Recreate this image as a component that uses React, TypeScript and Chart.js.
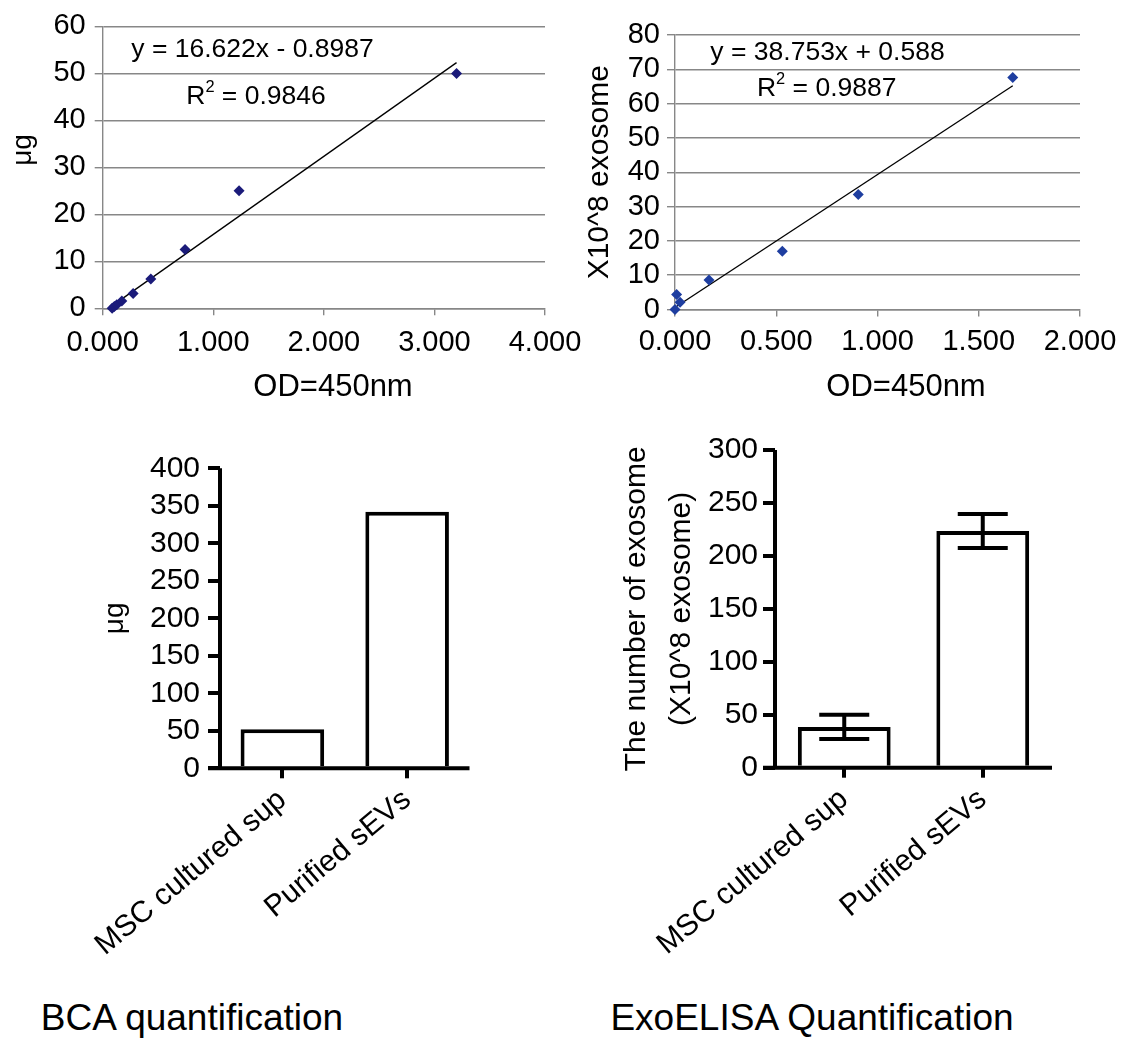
import React, { useEffect, useRef } from 'react';
import { Chart, registerables } from 'chart.js';

Chart.register(...registerables);

const FONT = "'Liberation Sans', Arial, Helvetica, sans-serif";
const GRAY = '#878787';

// ---- Panel 1: BCA standard curve ----
const bcaOD = [0.085, 0.105, 0.127, 0.173, 0.275, 0.435, 0.745, 1.233, 3.2];
const bcaUg = [0, 0.39, 0.78, 1.56, 3.125, 6.25, 12.5, 25, 50];
const bcaSlope = 16.622;
const bcaIntercept = -0.8987;
const bcaEquation = 'y = 16.622x - 0.8987';
const bcaR2 = '0.9846';
const bcaXTicks = [0, 1, 2, 3, 4];
const bcaXLabels = ['0.000', '1.000', '2.000', '3.000', '4.000'];
const bcaYTicks = [0, 10, 20, 30, 40, 50, 60];

// ---- Panel 2: ExoELISA standard curve ----
const elisaOD = [0, 0.008, 0.025, 0.168, 0.53, 0.905, 1.668];
const elisaExo = [0, 4.4, 2.1, 8.6, 17.0, 33.5, 67.6];
const elisaSlope = 38.753;
const elisaIntercept = 0.588;
const elisaEquation = 'y = 38.753x + 0.588';
const elisaR2 = '0.9887';
const elisaXTicks = [0, 0.5, 1, 1.5, 2];
const elisaXLabels = ['0.000', '0.500', '1.000', '1.500', '2.000'];
const elisaYTicks = [0, 10, 20, 30, 40, 50, 60, 70, 80];

// ---- Panel 3 / 4: bar charts ----
const groups = ['MSC cultured sup', 'Purified sEVs'];
const bcaTotals = [52, 342];
const bcaBarYTicks = [0, 50, 100, 150, 200, 250, 300, 350, 400];
const exoTotals = [38.5, 223.5];
const exoErrors = [11.5, 16];
const exoBarYTicks = [0, 50, 100, 150, 200, 250, 300];

type Seg = { t: string; sup?: boolean };
type TextItem = { segs: Seg[]; x: number; y: number; size: number; rotate?: number };

function textPlugin(items: TextItem[]) {
  return {
    id: 'freeTexts',
    afterDraw(chart: any) {
      const ctx = chart.ctx as CanvasRenderingContext2D;
      items.forEach((it) => {
        ctx.save();
        ctx.translate(it.x, it.y);
        if (it.rotate) ctx.rotate(it.rotate);
        ctx.fillStyle = '#000';
        ctx.textBaseline = 'middle';
        ctx.textAlign = 'left';
        const supSize = it.size * 0.62;
        const widths = it.segs.map((s) => {
          ctx.font = `${s.sup ? supSize : it.size}px ${FONT}`;
          return ctx.measureText(s.t).width;
        });
        const total = widths.reduce((a, b) => a + b, 0);
        let x = -total / 2;
        it.segs.forEach((s, i) => {
          ctx.font = `${s.sup ? supSize : it.size}px ${FONT}`;
          ctx.fillText(s.t, x, s.sup ? -it.size * 0.36 : 0);
          x += widths[i];
        });
        ctx.restore();
      });
    },
  };
}

function prismAxesPlugin(tick: number, width: number) {
  return {
    id: 'prismAxes',
    afterDatasetsDraw(chart: any) {
      const { ctx, chartArea } = chart;
      ctx.save();
      ctx.strokeStyle = '#000';
      ctx.lineWidth = width;
      ctx.beginPath();
      ctx.moveTo(chartArea.left, chartArea.top);
      ctx.lineTo(chartArea.left, chartArea.bottom);
      ctx.moveTo(chartArea.left - tick, chartArea.bottom);
      ctx.lineTo(chartArea.right, chartArea.bottom);
      ctx.stroke();
      ctx.restore();
    },
  };
}

function errorBarPlugin(errors: number[], capWidth: number, width: number) {
  return {
    id: 'errorBars',
    afterDatasetsDraw(chart: any) {
      const { ctx } = chart;
      const meta = chart.getDatasetMeta(0);
      const yScale = chart.scales.y;
      const values = chart.data.datasets[0].data as number[];
      ctx.save();
      ctx.strokeStyle = '#000';
      ctx.lineWidth = width;
      meta.data.forEach((bar: any, i: number) => {
        const yTop = yScale.getPixelForValue(values[i] + errors[i]);
        const yBot = yScale.getPixelForValue(values[i] - errors[i]);
        const x = bar.x;
        ctx.beginPath();
        ctx.moveTo(x, yTop);
        ctx.lineTo(x, yBot);
        ctx.moveTo(x - capWidth / 2, yTop);
        ctx.lineTo(x + capWidth / 2, yTop);
        ctx.moveTo(x - capWidth / 2, yBot);
        ctx.lineTo(x + capWidth / 2, yBot);
        ctx.stroke();
      });
      ctx.restore();
    },
  };
}

function excelScatter(opts: {
  xs: number[]; ys: number[]; slope: number; intercept: number;
  xTicks: number[]; xLabels: string[]; yTicks: number[];
  xMax: number; yMax: number; color: string;
  pad: { left: number; top: number; right: number; bottom: number };
  yWidth: number; xHeight: number; xTickLen: number; xPad: number; yPad: number;
  yTitle?: string; texts: TextItem[];
}) {
  const xMin = Math.min(...opts.xs);
  const xMaxData = Math.max(...opts.xs);
  const trend = [
    { x: xMin, y: opts.slope * xMin + opts.intercept },
    { x: xMaxData, y: opts.slope * xMaxData + opts.intercept },
  ];
  return {
    type: 'scatter',
    data: {
      datasets: [
        {
          type: 'scatter',
          data: opts.xs.map((x, i) => ({ x, y: opts.ys[i] })),
          pointStyle: 'rectRot',
          pointRadius: 5.5,
          backgroundColor: opts.color,
          borderColor: opts.color,
          borderWidth: 0,
          clip: false,
          order: 0,
        },
        {
          type: 'line',
          data: trend,
          borderColor: '#000',
          borderWidth: 1.3,
          pointRadius: 0,
          showLine: true,
          fill: false,
          order: 1,
        },
      ],
    },
    options: {
      animation: false,
      responsive: false,
      devicePixelRatio: 1,
      layout: { padding: opts.pad },
      plugins: { legend: { display: false }, tooltip: { enabled: false } },
      scales: {
        x: {
          type: 'linear',
          min: 0,
          max: opts.xMax,
          afterBuildTicks: (s: any) => { s.ticks = opts.xTicks.map((v) => ({ value: v })); },
          afterFit: (s: any) => { s.height = opts.xHeight; },
          ticks: {
            font: { family: FONT, size: 29 },
            color: '#000',
            padding: opts.xPad,
            maxRotation: 0,
            autoSkip: false,
            callback: (_v: any, i: number) => opts.xLabels[i],
          },
          grid: { drawOnChartArea: false, tickLength: opts.xTickLen, color: GRAY, lineWidth: 1.4 },
          border: { color: GRAY, width: 1.4 },
        },
        y: {
          type: 'linear',
          min: 0,
          max: opts.yMax,
          afterBuildTicks: (s: any) => { s.ticks = opts.yTicks.map((v) => ({ value: v })); },
          afterFit: (s: any) => { s.width = opts.yWidth; },
          ticks: {
            font: { family: FONT, size: 29 },
            color: '#000',
            padding: opts.yPad,
            autoSkip: false,
            callback: (v: any) => String(v),
          },
          grid: { color: GRAY, lineWidth: 1.4, tickLength: 8 },
          border: { color: GRAY, width: 1.4 },
          title: opts.yTitle
            ? { display: true, text: opts.yTitle, color: '#000', font: { family: FONT, size: 30 }, padding: 0 }
            : { display: false },
        },
      },
    },
    plugins: [textPlugin(opts.texts)],
  };
}

function prismBar(opts: {
  values: number[]; yTicks: number[]; yMax: number;
  pad: { left: number; top: number; right: number; bottom: number };
  yWidth: number; xHeight: number; yPad: number;
  yTitle: string | string[]; titleSize: number; titleLH: number;
  errors?: number[];
}) {
  const plugins: any[] = [prismAxesPlugin(12, 4)];
  if (opts.errors) plugins.push(errorBarPlugin(opts.errors, 50, 4));
  return {
    type: 'bar',
    data: {
      labels: groups,
      datasets: [
        {
          data: opts.values,
          backgroundColor: '#ffffff',
          borderColor: '#000000',
          borderWidth: 4,
          borderSkipped: 'start',
          barPercentage: 0.67,
          categoryPercentage: 1,
        },
      ],
    },
    options: {
      animation: false,
      responsive: false,
      devicePixelRatio: 1,
      layout: { padding: opts.pad },
      plugins: { legend: { display: false }, tooltip: { enabled: false } },
      scales: {
        x: {
          offset: true,
          afterFit: (s: any) => { s.height = opts.xHeight; },
          ticks: {
            font: { family: FONT, size: 30 },
            color: '#000',
            minRotation: 40,
            maxRotation: 40,
            autoSkip: false,
            padding: 4,
          },
          grid: { offset: false, drawOnChartArea: false, tickLength: 10, color: '#000', lineWidth: 4 },
          border: { display: false },
        },
        y: {
          min: 0,
          max: opts.yMax,
          afterBuildTicks: (s: any) => { s.ticks = opts.yTicks.map((v) => ({ value: v })); },
          afterFit: (s: any) => { s.width = opts.yWidth; },
          ticks: {
            font: { family: FONT, size: 30 },
            color: '#000',
            padding: opts.yPad,
            autoSkip: false,
            callback: (v: any) => String(v),
          },
          grid: { drawOnChartArea: false, tickLength: 12, color: '#000', lineWidth: 4 },
          border: { display: false },
          title: {
            display: true,
            text: opts.yTitle,
            color: '#000',
            font: { family: FONT, size: opts.titleSize, lineHeight: opts.titleLH },
            padding: 0,
          },
        },
      },
    },
    plugins,
  };
}

function ChartBox({ make, left, top, width, height }: { make: () => any; left: number; top: number; width: number; height: number }) {
  const ref = useRef<HTMLCanvasElement>(null);
  useEffect(() => {
    const chart = new Chart(ref.current as HTMLCanvasElement, make());
    return () => chart.destroy();
  }, []);
  return (
    <canvas
      ref={ref}
      width={width}
      height={height}
      style={{ position: 'absolute', left, top, width, height }}
    />
  );
}

export default function App() {
  const makeBcaCurve = () =>
    excelScatter({
      xs: bcaOD, ys: bcaUg, slope: bcaSlope, intercept: bcaIntercept,
      xTicks: bcaXTicks, xLabels: bcaXLabels, yTicks: bcaYTicks,
      xMax: 4, yMax: 60, color: '#1b1b7a',
      pad: { left: 0, top: 22.7, right: 55, bottom: 0 },
      yWidth: 102.7, xHeight: 101.7, xTickLen: 7, xPad: 10, yPad: 9,
      texts: [
        { segs: [{ t: bcaEquation }], x: 252.5, y: 50, size: 26.5 },
        { segs: [{ t: 'R' }, { t: '2', sup: true }, { t: ' = ' + bcaR2 }], x: 256, y: 97, size: 26.5 },
        { segs: [{ t: 'OD=450nm' }], x: 333, y: 387, size: 31 },
        { segs: [{ t: 'μg' }], x: 23, y: 150, size: 28, rotate: -Math.PI / 2 },
      ],
    });

  const makeElisaCurve = () =>
    excelScatter({
      xs: elisaOD, ys: elisaExo, slope: elisaSlope, intercept: elisaIntercept,
      xTicks: elisaXTicks, xLabels: elisaXLabels, yTicks: elisaYTicks,
      xMax: 2, yMax: 80, color: '#1e3ea0',
      pad: { left: 22, top: 35, right: 48, bottom: 0 },
      yWidth: 93, xHeight: 100.5, xTickLen: 7, xPad: 8, yPad: 7,
      yTitle: 'X10^8 exosome',
      texts: [
        { segs: [{ t: elisaEquation }], x: 267.5, y: 53, size: 26.5 },
        { segs: [{ t: 'R' }, { t: '2', sup: true }, { t: ' = ' + elisaR2 }], x: 266.7, y: 89, size: 26.5 },
        { segs: [{ t: 'OD=450nm' }], x: 346, y: 387, size: 31 },
      ],
    });

  const makeBcaBar = () =>
    prismBar({
      values: bcaTotals, yTicks: bcaBarYTicks, yMax: 400,
      pad: { left: 98, top: 38.3, right: 90.5, bottom: 0 },
      yWidth: 122, xHeight: 201.7, yPad: 8,
      yTitle: 'μg', titleSize: 28, titleLH: 1.2,
    });

  const makeExoBar = () =>
    prismBar({
      values: exoTotals, yTicks: exoBarYTicks, yMax: 300,
      pad: { left: 54.5, top: 40, right: 76, bottom: 0 },
      yWidth: 160.5, xHeight: 202.3, yPad: 5,
      yTitle: ['The number of exosome', '(X10^8 exosome)'], titleSize: 30, titleLH: 1.5,
      errors: exoErrors,
    });

  return (
    <div style={{ position: 'absolute', left: 0, top: 0, width: 1128, height: 1059, background: '#fff', overflow: 'hidden' }}>
      <ChartBox make={makeBcaCurve} left={0} top={0} width={600} height={410} />
      <ChartBox make={makeElisaCurve} left={560} top={0} width={568} height={410} />
      <ChartBox make={makeBcaBar} left={0} top={430} width={560} height={540} />
      <ChartBox make={makeExoBar} left={560} top={410} width={568} height={560} />
      <div style={{ position: 'absolute', left: 0, top: 996, width: 384, textAlign: 'center', font: `37px ${FONT}`, lineHeight: '44px', color: '#000' }}>
        BCA quantification
      </div>
      <div style={{ position: 'absolute', left: 562, top: 996, width: 500, textAlign: 'center', font: `37px ${FONT}`, lineHeight: '44px', color: '#000' }}>
        ExoELISA Quantification
      </div>
    </div>
  );
}
